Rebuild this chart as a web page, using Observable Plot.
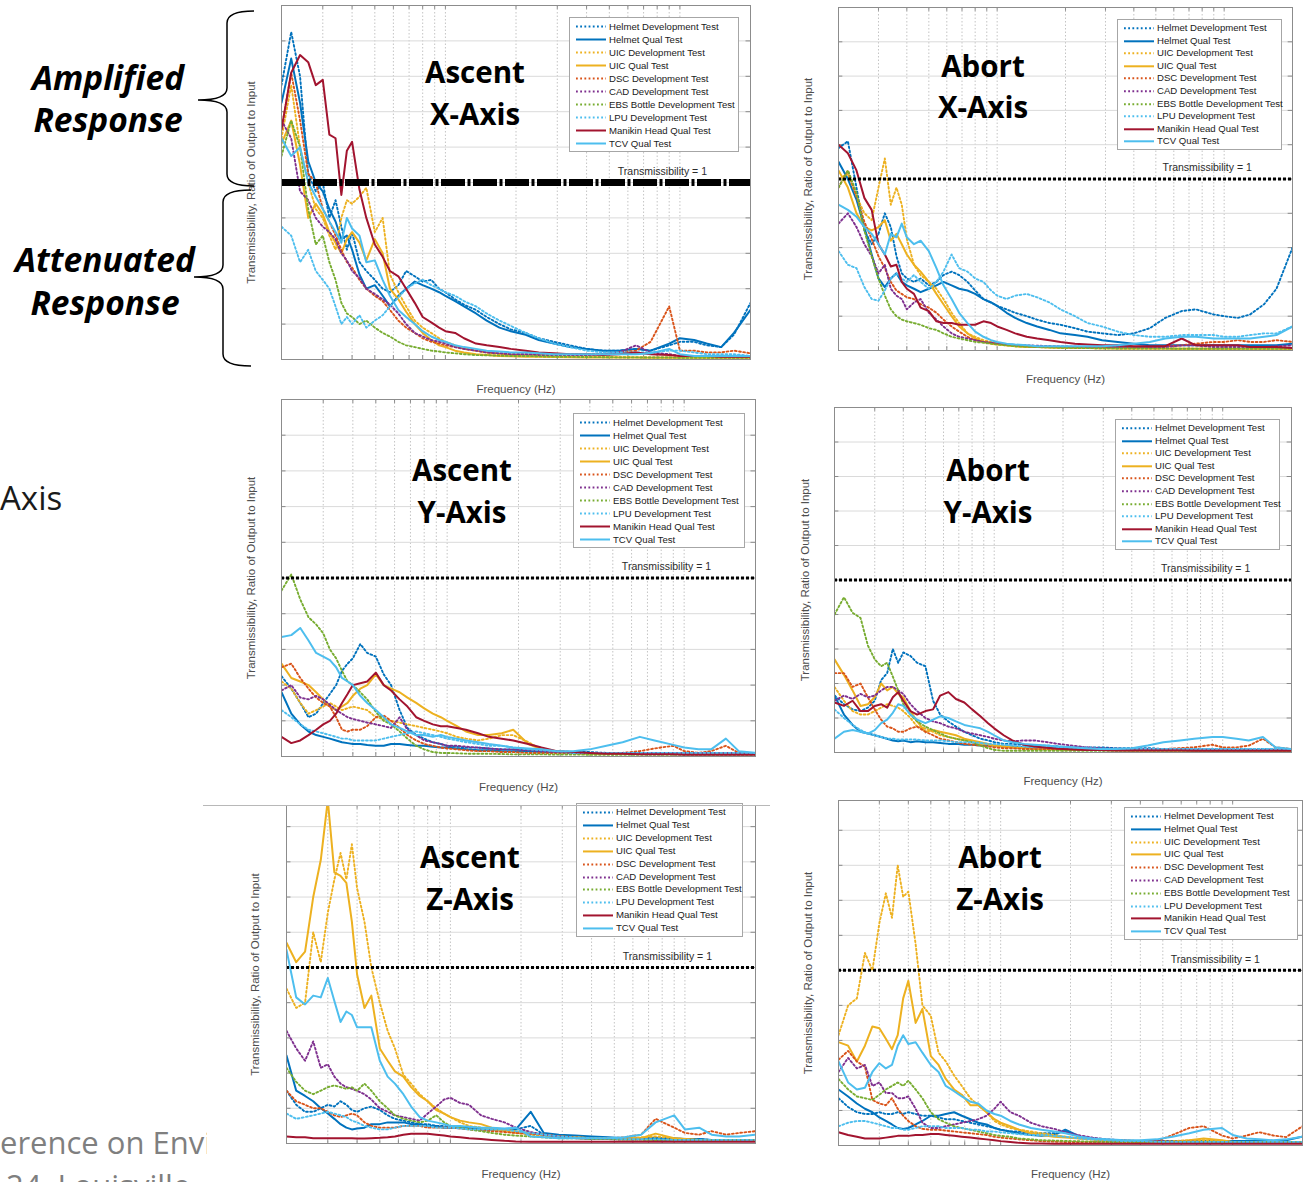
<!DOCTYPE html>
<html>
<head>
<meta charset="utf-8">
<script src="https://cdn.jsdelivr.net/npm/d3@7"></script>
<script src="https://cdn.jsdelivr.net/npm/@observablehq/plot@0.6"></script>
<style>
html,body{margin:0;padding:0;background:#fff;}
#page{position:relative;width:1304px;height:1182px;overflow:hidden;background:#fff;}
.legend{position:absolute;box-sizing:border-box;border:1px solid #a6a6a6;background:#fff;font-family:"Liberation Sans",Arial,sans-serif;font-size:9.6px;color:#1a1a1a;}
.legend .row{position:absolute;left:0;right:0;white-space:nowrap;}
.legend .row span{position:absolute;left:39px;top:0;}
.legend .row svg{position:absolute;left:5px;top:0;}
</style>
</head>
<body>
<div id="page"></div>
<script>
// ---------------- data ----------------
const freqs = [20,22,24,26,28,30,32,34,36,38,40,43,46,50,54,58,63,68,74,80,87,94,100,110,120,135,150,170,190,220,250,290,340,400,470,550,650,750,900,1000,1150,1300,1500,1700,2000];
const seriesNames = ["Helmet Development Test","Helmet Qual Test","UIC Development Test","UIC Qual Test","DSC Development Test","CAD Development Test","EBS Bottle Development Test","LPU Development Test","Manikin Head Qual Test","TCV Qual Test"];
const xGridTicks = [30,40,50,60,70,80,90,100,200,300,400,500,600,700,800,900,1000];
const yGridTicks = [0.2,0.4,0.6,0.8,1.0,1.2,1.4,1.6,1.8];
const referenceLevel = [1];
const referenceLabel = ["Transmissibility = 1"];
const xLabel = "Frequency (Hz)";
const yLabel = "Transmissibility, Ratio of Output to Input";

// Ascent X-Axis
const AX_helmetDev = [1.55,1.85,1.60,1.05,0.95,1.00,0.80,0.90,0.75,0.62,0.72,0.55,0.50,0.45,0.40,0.38,0.42,0.50,0.47,0.44,0.45,0.40,0.38,0.34,0.31,0.28,0.24,0.20,0.17,0.15,0.12,0.10,0.08,0.06,0.05,0.05,0.06,0.05,0.08,0.10,0.10,0.08,0.07,0.14,0.32];
const AX_helmetQual = [1.45,1.70,1.45,1.12,1.00,0.95,0.85,0.78,0.68,0.70,0.62,0.48,0.40,0.42,0.36,0.30,0.36,0.40,0.44,0.42,0.40,0.38,0.36,0.33,0.30,0.26,0.22,0.18,0.16,0.14,0.11,0.09,0.07,0.06,0.05,0.05,0.06,0.05,0.09,0.12,0.11,0.09,0.07,0.15,0.28];
const AX_uicDev = [1.25,1.55,1.20,1.00,0.85,0.80,0.70,0.62,0.80,0.90,0.88,0.92,0.97,0.72,0.80,0.48,0.38,0.30,0.22,0.18,0.15,0.12,0.10,0.08,0.06,0.05,0.04,0.03,0.025,0.02,0.018,0.016,0.015,0.015,0.014,0.013,0.012,0.012,0.012,0.011,0.011,0.01,0.01,0.01,0.01];
const AX_uicQual = [1.22,1.35,1.10,0.80,0.88,0.82,0.72,0.66,0.60,0.68,0.72,0.66,0.56,0.68,0.60,0.40,0.34,0.27,0.20,0.15,0.11,0.08,0.07,0.05,0.04,0.03,0.025,0.02,0.018,0.016,0.015,0.014,0.013,0.012,0.012,0.011,0.011,0.01,0.01,0.01,0.01,0.01,0.01,0.01,0.01];
const AX_dscDev = [1.30,1.62,1.35,1.05,1.00,0.85,0.78,0.70,0.62,0.55,0.52,0.45,0.40,0.36,0.33,0.28,0.22,0.18,0.15,0.12,0.10,0.09,0.08,0.07,0.06,0.05,0.04,0.035,0.03,0.03,0.03,0.03,0.03,0.03,0.03,0.04,0.05,0.10,0.30,0.05,0.05,0.04,0.04,0.05,0.035];
const AX_cadDev = [1.35,1.25,0.95,0.90,0.80,0.75,0.72,0.68,0.60,0.56,0.50,0.46,0.40,0.37,0.34,0.31,0.26,0.20,0.15,0.13,0.11,0.10,0.09,0.07,0.06,0.05,0.04,0.035,0.03,0.03,0.025,0.025,0.025,0.025,0.03,0.04,0.08,0.04,0.03,0.02,0.02,0.02,0.02,0.02,0.02];
const AX_ebsDev = [1.15,1.35,1.20,0.85,0.65,0.70,0.55,0.45,0.32,0.26,0.24,0.20,0.22,0.18,0.15,0.13,0.10,0.08,0.07,0.06,0.05,0.045,0.04,0.035,0.03,0.025,0.024,0.022,0.02,0.02,0.018,0.016,0.015,0.014,0.013,0.012,0.012,0.011,0.011,0.01,0.01,0.01,0.01,0.01,0.01];
const AX_lpuDev = [0.75,0.70,0.55,0.62,0.50,0.45,0.40,0.30,0.20,0.24,0.20,0.25,0.18,0.22,0.25,0.30,0.35,0.40,0.43,0.45,0.42,0.40,0.38,0.36,0.33,0.30,0.26,0.22,0.19,0.15,0.12,0.09,0.07,0.05,0.04,0.04,0.04,0.04,0.05,0.05,0.04,0.03,0.03,0.03,0.02];
const AX_manikin = [1.30,1.62,1.72,1.68,1.55,1.58,1.27,1.25,0.93,1.18,1.23,0.96,0.80,0.65,0.58,0.50,0.47,0.40,0.32,0.24,0.21,0.18,0.16,0.15,0.12,0.09,0.08,0.07,0.06,0.05,0.04,0.035,0.03,0.03,0.025,0.03,0.04,0.03,0.025,0.02,0.02,0.02,0.015,0.015,0.015];
const AX_tcv = [1.25,1.15,1.20,1.00,0.92,0.85,0.78,0.72,0.66,0.80,0.74,0.70,0.55,0.56,0.45,0.36,0.28,0.24,0.20,0.16,0.13,0.11,0.10,0.08,0.07,0.06,0.05,0.045,0.04,0.04,0.035,0.03,0.03,0.03,0.03,0.03,0.03,0.035,0.06,0.03,0.02,0.02,0.02,0.02,0.02];

// Abort X-Axis
const BX_helmetDev = [1.18,1.22,0.95,0.70,0.62,0.68,0.80,0.72,0.55,0.45,0.42,0.40,0.42,0.38,0.40,0.44,0.46,0.44,0.40,0.35,0.30,0.28,0.26,0.24,0.22,0.20,0.18,0.16,0.15,0.13,0.11,0.10,0.09,0.10,0.13,0.19,0.23,0.24,0.21,0.20,0.19,0.21,0.27,0.36,0.60];
const BX_helmetQual = [1.10,1.00,0.88,0.72,0.56,0.42,0.37,0.42,0.45,0.40,0.38,0.36,0.34,0.36,0.38,0.40,0.38,0.36,0.35,0.33,0.30,0.28,0.26,0.22,0.19,0.16,0.14,0.12,0.10,0.09,0.08,0.06,0.05,0.04,0.03,0.03,0.03,0.03,0.03,0.03,0.03,0.03,0.03,0.03,0.04];
const BX_uicDev = [1.00,1.03,0.90,0.80,0.76,0.95,1.12,0.85,0.95,0.85,0.65,0.50,0.44,0.40,0.36,0.30,0.22,0.16,0.10,0.08,0.06,0.05,0.04,0.03,0.025,0.02,0.02,0.018,0.016,0.015,0.014,0.013,0.012,0.012,0.011,0.011,0.01,0.01,0.01,0.01,0.01,0.01,0.01,0.01,0.01];
const BX_uicQual = [1.05,0.95,0.80,0.72,0.70,0.72,0.76,0.64,0.68,0.62,0.56,0.50,0.46,0.40,0.33,0.27,0.20,0.14,0.10,0.07,0.05,0.04,0.035,0.03,0.025,0.02,0.02,0.018,0.016,0.015,0.014,0.013,0.012,0.012,0.011,0.011,0.01,0.01,0.01,0.01,0.01,0.01,0.01,0.01,0.01];
const BX_dscDev = [0.95,1.05,0.90,0.75,0.65,0.55,0.48,0.40,0.35,0.33,0.31,0.30,0.27,0.25,0.22,0.18,0.14,0.11,0.08,0.06,0.05,0.045,0.04,0.035,0.03,0.025,0.02,0.02,0.02,0.02,0.02,0.02,0.02,0.02,0.02,0.025,0.03,0.04,0.05,0.05,0.06,0.05,0.05,0.06,0.05];
const BX_cadDev = [0.74,0.80,0.72,0.62,0.55,0.45,0.50,0.36,0.32,0.30,0.24,0.28,0.30,0.22,0.18,0.14,0.10,0.08,0.07,0.06,0.05,0.045,0.04,0.035,0.033,0.03,0.028,0.026,0.024,0.022,0.02,0.02,0.02,0.02,0.02,0.02,0.03,0.03,0.02,0.02,0.02,0.02,0.02,0.025,0.03];
const BX_ebsDev = [0.95,1.05,0.92,0.70,0.55,0.42,0.32,0.24,0.20,0.18,0.17,0.16,0.15,0.13,0.12,0.10,0.08,0.07,0.06,0.05,0.045,0.04,0.035,0.03,0.025,0.022,0.02,0.018,0.016,0.015,0.014,0.013,0.012,0.012,0.011,0.011,0.01,0.01,0.01,0.01,0.01,0.01,0.01,0.01,0.01];
const BX_lpuDev = [0.58,0.50,0.48,0.37,0.30,0.29,0.35,0.42,0.45,0.42,0.40,0.44,0.40,0.36,0.40,0.46,0.56,0.48,0.46,0.42,0.40,0.35,0.32,0.30,0.32,0.33,0.31,0.28,0.24,0.20,0.16,0.14,0.11,0.09,0.08,0.08,0.09,0.09,0.09,0.08,0.08,0.09,0.10,0.10,0.14];
const BX_manikin = [1.20,1.15,1.05,0.89,0.82,0.62,0.56,0.49,0.50,0.40,0.36,0.33,0.25,0.23,0.17,0.16,0.16,0.15,0.15,0.15,0.17,0.16,0.14,0.12,0.10,0.08,0.07,0.06,0.05,0.04,0.035,0.03,0.03,0.025,0.025,0.025,0.07,0.03,0.03,0.03,0.03,0.02,0.02,0.02,0.015];
const BX_tcv = [0.85,0.82,0.78,0.72,0.68,0.62,0.56,0.68,0.66,0.74,0.66,0.62,0.64,0.58,0.48,0.38,0.30,0.22,0.16,0.11,0.08,0.06,0.05,0.04,0.035,0.03,0.025,0.025,0.025,0.025,0.025,0.025,0.03,0.04,0.05,0.07,0.08,0.08,0.07,0.07,0.07,0.07,0.08,0.09,0.14];

// Ascent Y-Axis
const AY_helmetDev = [0.45,0.38,0.30,0.22,0.24,0.30,0.35,0.40,0.48,0.52,0.55,0.63,0.58,0.56,0.46,0.40,0.26,0.16,0.12,0.10,0.08,0.07,0.06,0.055,0.05,0.05,0.045,0.04,0.04,0.035,0.03,0.03,0.025,0.025,0.02,0.02,0.02,0.02,0.02,0.02,0.02,0.02,0.02,0.02,0.02];
const AY_helmetQual = [0.36,0.24,0.18,0.14,0.12,0.11,0.10,0.09,0.08,0.075,0.07,0.07,0.065,0.06,0.06,0.07,0.07,0.065,0.06,0.06,0.055,0.05,0.05,0.045,0.04,0.035,0.035,0.03,0.03,0.03,0.025,0.025,0.025,0.02,0.02,0.02,0.02,0.02,0.02,0.02,0.02,0.02,0.02,0.02,0.02];
const AY_uicDev = [0.42,0.38,0.30,0.24,0.26,0.28,0.30,0.28,0.26,0.27,0.28,0.27,0.26,0.22,0.21,0.20,0.19,0.18,0.17,0.16,0.15,0.14,0.13,0.11,0.10,0.09,0.10,0.12,0.12,0.08,0.04,0.025,0.02,0.015,0.015,0.015,0.015,0.015,0.015,0.015,0.015,0.015,0.015,0.015,0.015];
const AY_uicQual = [0.52,0.44,0.42,0.40,0.36,0.32,0.28,0.26,0.28,0.30,0.34,0.38,0.40,0.46,0.40,0.38,0.36,0.33,0.30,0.27,0.24,0.22,0.20,0.17,0.14,0.12,0.12,0.13,0.15,0.07,0.04,0.03,0.02,0.015,0.015,0.015,0.015,0.015,0.015,0.015,0.015,0.015,0.015,0.015,0.015];
const AY_dscDev = [0.50,0.52,0.44,0.38,0.33,0.30,0.28,0.22,0.15,0.14,0.15,0.15,0.17,0.22,0.23,0.20,0.16,0.12,0.09,0.07,0.06,0.05,0.045,0.04,0.035,0.03,0.03,0.025,0.025,0.02,0.02,0.02,0.02,0.02,0.02,0.02,0.03,0.045,0.06,0.03,0.02,0.03,0.06,0.02,0.02];
const AY_cadDev = [0.37,0.40,0.33,0.32,0.34,0.32,0.29,0.26,0.24,0.22,0.21,0.20,0.19,0.18,0.17,0.16,0.22,0.15,0.12,0.09,0.08,0.07,0.06,0.06,0.055,0.05,0.045,0.04,0.04,0.035,0.03,0.025,0.02,0.02,0.02,0.02,0.02,0.02,0.02,0.02,0.02,0.02,0.02,0.02,0.02];
const AY_ebsDev = [0.93,1.02,0.88,0.78,0.74,0.69,0.60,0.55,0.48,0.42,0.40,0.36,0.32,0.25,0.20,0.18,0.14,0.10,0.06,0.04,0.025,0.02,0.02,0.018,0.016,0.015,0.015,0.014,0.012,0.012,0.012,0.011,0.011,0.01,0.01,0.01,0.01,0.01,0.01,0.01,0.01,0.01,0.01,0.01,0.01];
const AY_lpuDev = [0.26,0.22,0.18,0.15,0.14,0.13,0.12,0.11,0.10,0.10,0.09,0.09,0.09,0.09,0.10,0.11,0.12,0.13,0.14,0.13,0.12,0.11,0.10,0.09,0.08,0.07,0.06,0.06,0.05,0.04,0.035,0.03,0.02,0.02,0.02,0.02,0.02,0.02,0.02,0.02,0.02,0.02,0.02,0.02,0.02];
const AY_manikin = [0.11,0.075,0.09,0.12,0.15,0.18,0.20,0.24,0.30,0.35,0.40,0.41,0.42,0.47,0.40,0.37,0.32,0.28,0.22,0.20,0.18,0.17,0.17,0.16,0.15,0.13,0.11,0.10,0.09,0.07,0.05,0.03,0.025,0.02,0.015,0.015,0.012,0.012,0.012,0.01,0.01,0.01,0.01,0.01,0.01];
const AY_tcv = [0.67,0.68,0.72,0.65,0.58,0.56,0.54,0.50,0.44,0.42,0.40,0.34,0.30,0.26,0.22,0.18,0.16,0.14,0.12,0.12,0.11,0.12,0.11,0.10,0.09,0.08,0.07,0.06,0.05,0.045,0.04,0.03,0.03,0.04,0.06,0.08,0.11,0.09,0.065,0.05,0.04,0.04,0.10,0.03,0.02];

// Abort Y-Axis
const BY_helmetDev = [0.33,0.28,0.25,0.24,0.26,0.30,0.42,0.46,0.60,0.52,0.58,0.56,0.52,0.50,0.30,0.22,0.18,0.15,0.12,0.10,0.08,0.07,0.06,0.05,0.05,0.045,0.04,0.04,0.035,0.03,0.03,0.03,0.025,0.025,0.025,0.02,0.02,0.02,0.02,0.02,0.02,0.02,0.02,0.02,0.02];
const BY_helmetQual = [0.33,0.22,0.16,0.12,0.11,0.10,0.09,0.08,0.07,0.065,0.07,0.06,0.065,0.06,0.06,0.055,0.05,0.05,0.045,0.045,0.04,0.04,0.04,0.035,0.035,0.03,0.03,0.028,0.026,0.024,0.022,0.02,0.02,0.018,0.018,0.016,0.016,0.015,0.015,0.015,0.015,0.015,0.015,0.015,0.015];
const BY_uicDev = [0.38,0.30,0.24,0.22,0.22,0.24,0.26,0.28,0.27,0.26,0.24,0.20,0.15,0.14,0.12,0.10,0.09,0.08,0.07,0.06,0.05,0.045,0.04,0.035,0.03,0.025,0.022,0.02,0.018,0.016,0.015,0.014,0.013,0.012,0.012,0.011,0.011,0.01,0.01,0.01,0.01,0.01,0.01,0.01,0.01];
const BY_uicQual = [0.54,0.45,0.36,0.27,0.28,0.32,0.40,0.36,0.38,0.34,0.32,0.24,0.18,0.12,0.13,0.12,0.11,0.10,0.08,0.07,0.06,0.05,0.04,0.035,0.03,0.025,0.022,0.02,0.018,0.016,0.015,0.014,0.013,0.012,0.012,0.011,0.011,0.01,0.01,0.01,0.01,0.01,0.01,0.01,0.01];
const BY_dscDev = [0.46,0.46,0.38,0.40,0.32,0.25,0.19,0.15,0.14,0.12,0.12,0.14,0.15,0.12,0.10,0.08,0.07,0.06,0.05,0.045,0.04,0.035,0.03,0.025,0.025,0.02,0.02,0.02,0.02,0.02,0.02,0.02,0.02,0.02,0.02,0.02,0.025,0.03,0.045,0.03,0.03,0.04,0.08,0.03,0.02];
const BY_cadDev = [0.30,0.33,0.31,0.34,0.32,0.33,0.36,0.38,0.38,0.36,0.34,0.28,0.24,0.20,0.18,0.17,0.15,0.14,0.12,0.11,0.10,0.09,0.08,0.07,0.065,0.07,0.07,0.06,0.05,0.04,0.03,0.025,0.022,0.02,0.02,0.018,0.018,0.016,0.016,0.015,0.015,0.015,0.015,0.015,0.015];
const BY_ebsDev = [0.80,0.90,0.81,0.78,0.62,0.54,0.50,0.52,0.44,0.36,0.28,0.22,0.18,0.15,0.13,0.11,0.09,0.08,0.07,0.06,0.04,0.025,0.015,0.01,0.01,0.01,0.01,0.01,0.01,0.01,0.01,0.01,0.01,0.01,0.01,0.01,0.01,0.01,0.01,0.01,0.01,0.01,0.01,0.01,0.01];
const BY_lpuDev = [0.25,0.20,0.16,0.13,0.11,0.10,0.09,0.08,0.08,0.075,0.075,0.075,0.075,0.07,0.07,0.07,0.065,0.06,0.06,0.06,0.055,0.05,0.05,0.045,0.04,0.035,0.03,0.03,0.028,0.026,0.024,0.022,0.02,0.02,0.02,0.02,0.02,0.02,0.02,0.02,0.02,0.02,0.02,0.02,0.02];
const BY_manikin = [0.29,0.27,0.30,0.24,0.24,0.27,0.28,0.26,0.32,0.35,0.30,0.24,0.22,0.24,0.25,0.33,0.35,0.31,0.29,0.25,0.21,0.17,0.14,0.10,0.07,0.045,0.035,0.028,0.022,0.018,0.015,0.015,0.012,0.012,0.012,0.011,0.011,0.01,0.01,0.01,0.01,0.01,0.01,0.01,0.01];
const BY_tcv = [0.08,0.12,0.13,0.12,0.11,0.13,0.17,0.19,0.23,0.28,0.27,0.22,0.19,0.17,0.19,0.21,0.20,0.18,0.16,0.15,0.14,0.12,0.10,0.07,0.06,0.05,0.045,0.04,0.035,0.03,0.025,0.02,0.02,0.025,0.04,0.06,0.07,0.08,0.09,0.09,0.08,0.07,0.09,0.03,0.02];

// Ascent Z-Axis
const AZ_helmetDev = [0.30,0.22,0.18,0.18,0.20,0.22,0.21,0.24,0.22,0.19,0.18,0.20,0.21,0.19,0.16,0.14,0.13,0.12,0.11,0.11,0.10,0.10,0.09,0.09,0.09,0.085,0.08,0.075,0.08,0.10,0.05,0.04,0.035,0.03,0.03,0.03,0.03,0.03,0.025,0.025,0.025,0.02,0.02,0.02,0.02];
const AZ_helmetQual = [0.50,0.30,0.27,0.24,0.20,0.17,0.14,0.11,0.09,0.08,0.085,0.09,0.11,0.11,0.12,0.12,0.12,0.11,0.11,0.10,0.10,0.09,0.09,0.09,0.085,0.08,0.08,0.08,0.08,0.18,0.06,0.05,0.045,0.04,0.035,0.03,0.03,0.03,0.03,0.025,0.025,0.02,0.02,0.02,0.02];
const AZ_uicDev = [0.88,0.77,0.80,1.20,1.03,1.31,1.50,1.65,1.50,1.70,1.45,1.26,1.00,0.80,0.64,0.54,0.39,0.34,0.28,0.24,0.20,0.17,0.15,0.12,0.10,0.09,0.08,0.07,0.06,0.05,0.045,0.04,0.035,0.03,0.03,0.03,0.035,0.04,0.03,0.025,0.02,0.02,0.02,0.02,0.02];
const AZ_uicQual = [1.14,1.03,1.09,1.40,1.61,1.95,1.54,1.52,1.48,1.26,0.96,0.77,0.84,0.54,0.47,0.41,0.38,0.32,0.27,0.24,0.19,0.17,0.15,0.13,0.12,0.11,0.09,0.08,0.07,0.06,0.05,0.04,0.035,0.03,0.03,0.03,0.03,0.056,0.03,0.025,0.02,0.02,0.02,0.02,0.02];
const AZ_dscDev = [0.30,0.24,0.22,0.20,0.20,0.18,0.16,0.15,0.16,0.17,0.16,0.12,0.10,0.09,0.09,0.09,0.10,0.10,0.10,0.09,0.09,0.09,0.09,0.085,0.08,0.075,0.07,0.065,0.06,0.055,0.05,0.04,0.035,0.03,0.03,0.035,0.05,0.14,0.09,0.06,0.05,0.07,0.05,0.06,0.07];
const AZ_cadDev = [0.64,0.54,0.47,0.58,0.43,0.45,0.38,0.34,0.32,0.31,0.30,0.28,0.25,0.20,0.18,0.16,0.15,0.14,0.13,0.17,0.21,0.25,0.26,0.23,0.22,0.16,0.14,0.12,0.09,0.065,0.05,0.04,0.03,0.025,0.025,0.022,0.022,0.02,0.02,0.02,0.02,0.02,0.02,0.02,0.02];
const AZ_ebsDev = [0.43,0.35,0.30,0.28,0.30,0.32,0.33,0.32,0.31,0.32,0.30,0.34,0.30,0.24,0.20,0.16,0.14,0.13,0.12,0.13,0.16,0.12,0.10,0.09,0.08,0.07,0.06,0.05,0.045,0.04,0.035,0.03,0.03,0.025,0.025,0.022,0.022,0.02,0.02,0.02,0.02,0.02,0.02,0.02,0.02];
const AZ_lpuDev = [0.17,0.14,0.15,0.16,0.17,0.18,0.17,0.16,0.15,0.13,0.12,0.10,0.09,0.08,0.08,0.09,0.10,0.10,0.10,0.10,0.09,0.09,0.09,0.085,0.08,0.08,0.08,0.08,0.07,0.06,0.05,0.04,0.035,0.03,0.03,0.025,0.025,0.025,0.02,0.02,0.02,0.02,0.02,0.02,0.02];
const AZ_manikin = [0.04,0.035,0.035,0.03,0.03,0.03,0.03,0.03,0.03,0.03,0.028,0.028,0.03,0.032,0.035,0.04,0.05,0.055,0.055,0.055,0.05,0.045,0.04,0.035,0.03,0.025,0.02,0.015,0.012,0.01,0.01,0.01,0.01,0.01,0.01,0.01,0.01,0.01,0.01,0.01,0.01,0.01,0.01,0.01,0.01];
const AZ_tcv = [1.10,0.83,0.79,0.84,0.83,0.94,0.81,0.69,0.75,0.73,0.66,0.66,0.66,0.47,0.38,0.34,0.28,0.21,0.15,0.13,0.12,0.11,0.10,0.10,0.095,0.09,0.09,0.085,0.09,0.04,0.035,0.03,0.03,0.03,0.03,0.035,0.05,0.12,0.16,0.08,0.09,0.05,0.04,0.04,0.05];

// Abort Z-Axis
const BZ_helmetDev = [0.27,0.22,0.19,0.18,0.18,0.19,0.18,0.18,0.19,0.18,0.19,0.18,0.17,0.17,0.16,0.15,0.15,0.14,0.13,0.12,0.11,0.10,0.09,0.08,0.08,0.07,0.07,0.07,0.08,0.05,0.04,0.03,0.025,0.025,0.02,0.02,0.02,0.02,0.02,0.02,0.02,0.02,0.02,0.02,0.02];
const BZ_helmetQual = [0.32,0.28,0.24,0.21,0.19,0.16,0.14,0.12,0.10,0.095,0.10,0.12,0.14,0.17,0.17,0.18,0.19,0.17,0.15,0.13,0.12,0.10,0.09,0.08,0.07,0.06,0.055,0.06,0.09,0.05,0.035,0.03,0.025,0.025,0.025,0.025,0.025,0.025,0.025,0.025,0.025,0.025,0.025,0.03,0.05];
const BZ_uicDev = [0.63,0.80,0.84,1.10,1.00,1.27,1.44,1.30,1.60,1.42,1.45,1.15,0.80,0.74,0.53,0.48,0.40,0.34,0.27,0.23,0.19,0.14,0.12,0.10,0.09,0.08,0.07,0.06,0.05,0.04,0.035,0.03,0.03,0.025,0.025,0.025,0.03,0.03,0.025,0.02,0.02,0.02,0.02,0.02,0.02];
const BZ_uicQual = [0.59,0.57,0.48,0.57,0.68,0.67,0.61,0.55,0.63,0.84,0.94,0.70,0.78,0.51,0.46,0.38,0.32,0.29,0.23,0.23,0.19,0.15,0.13,0.11,0.09,0.07,0.06,0.05,0.045,0.04,0.035,0.03,0.025,0.02,0.02,0.02,0.03,0.04,0.03,0.02,0.02,0.02,0.02,0.02,0.02];
const BZ_dscDev = [0.49,0.54,0.48,0.45,0.26,0.24,0.23,0.27,0.21,0.17,0.14,0.11,0.095,0.09,0.09,0.085,0.08,0.075,0.07,0.065,0.06,0.05,0.045,0.04,0.035,0.03,0.025,0.022,0.02,0.02,0.02,0.02,0.02,0.02,0.025,0.06,0.10,0.11,0.057,0.04,0.057,0.076,0.057,0.048,0.11];
const BZ_cadDev = [0.42,0.50,0.44,0.46,0.34,0.36,0.30,0.30,0.27,0.27,0.28,0.21,0.13,0.10,0.10,0.11,0.12,0.13,0.14,0.15,0.17,0.21,0.25,0.19,0.17,0.13,0.11,0.095,0.076,0.057,0.045,0.035,0.03,0.025,0.025,0.022,0.022,0.02,0.02,0.02,0.02,0.02,0.02,0.02,0.02];
const BZ_ebsDev = [0.38,0.32,0.28,0.27,0.26,0.29,0.32,0.34,0.36,0.34,0.37,0.32,0.27,0.19,0.15,0.13,0.11,0.10,0.09,0.08,0.07,0.06,0.055,0.05,0.04,0.035,0.03,0.028,0.026,0.024,0.022,0.02,0.02,0.02,0.02,0.02,0.02,0.02,0.02,0.02,0.02,0.02,0.02,0.02,0.02];
const BZ_lpuDev = [0.11,0.13,0.14,0.14,0.13,0.12,0.11,0.10,0.10,0.09,0.09,0.10,0.11,0.11,0.11,0.10,0.10,0.10,0.09,0.09,0.08,0.08,0.075,0.07,0.065,0.06,0.06,0.055,0.05,0.04,0.035,0.03,0.025,0.025,0.02,0.02,0.02,0.02,0.02,0.02,0.02,0.02,0.02,0.02,0.02];
const BZ_manikin = [0.076,0.06,0.05,0.04,0.04,0.04,0.045,0.05,0.055,0.055,0.055,0.06,0.06,0.065,0.065,0.06,0.055,0.05,0.045,0.04,0.035,0.03,0.025,0.02,0.015,0.012,0.012,0.01,0.01,0.01,0.01,0.01,0.01,0.01,0.01,0.01,0.01,0.01,0.01,0.01,0.01,0.01,0.01,0.01,0.01];
const BZ_tcv = [0.48,0.36,0.32,0.33,0.42,0.47,0.44,0.46,0.57,0.63,0.58,0.59,0.53,0.46,0.42,0.34,0.31,0.28,0.25,0.24,0.20,0.18,0.17,0.14,0.12,0.10,0.09,0.08,0.07,0.05,0.04,0.035,0.03,0.03,0.035,0.05,0.07,0.09,0.10,0.06,0.04,0.035,0.03,0.035,0.05];

// ---------------- styles & layout ----------------
const seriesColors = ["#0072BD","#0072BD","#EDB120","#EDB120","#D95319","#7E2F8E","#77AC30","#4DBEEE","#A2142F","#4DBEEE"];
const seriesDotted = [true,false,true,false,true,true,true,true,false,false];
const dotPattern = "1.8,2.4";

const panels = [
  {values:[AX_helmetDev,AX_helmetQual,AX_uicDev,AX_uicQual,AX_dscDev,AX_cadDev,AX_ebsDev,AX_lpuDev,AX_manikin,AX_tcv],
   left:281, top:5, right:750, bottom:359, ymax:2, xlabGap:29, ylabGap:30, legend:[569,17,739,152], title:["Ascent","X-Axis"], titleX:475, titleBase:[83,125], thick:true},
  {values:[BX_helmetDev,BX_helmetQual,BX_uicDev,BX_uicQual,BX_dscDev,BX_cadDev,BX_ebsDev,BX_lpuDev,BX_manikin,BX_tcv],
   left:838, top:7, right:1292, bottom:350, ymax:2, xlabGap:28, ylabGap:30, legend:[1117,19,1282,150], title:["Abort","X-Axis"], titleX:983, titleBase:[77,118]},
  {values:[AY_helmetDev,AY_helmetQual,AY_uicDev,AY_uicQual,AY_dscDev,AY_cadDev,AY_ebsDev,AY_lpuDev,AY_manikin,AY_tcv],
   left:281, top:399, right:755, bottom:756, ymax:2, xlabGap:30, ylabGap:30, legend:[573,413,745,548], title:["Ascent","Y-Axis"], titleX:462, titleBase:[481,523]},
  {values:[BY_helmetDev,BY_helmetQual,BY_uicDev,BY_uicQual,BY_dscDev,BY_cadDev,BY_ebsDev,BY_lpuDev,BY_manikin,BY_tcv],
   left:834, top:407, right:1291, bottom:752, ymax:2, xlabGap:28, ylabGap:29, legend:[1115,419,1280,550], title:["Abort","Y-Axis"], titleX:988, titleBase:[481,523]},
  {values:[AZ_helmetDev,AZ_helmetQual,AZ_uicDev,AZ_uicQual,AZ_dscDev,AZ_cadDev,AZ_ebsDev,AZ_lpuDev,AZ_manikin,AZ_tcv],
   left:286, top:805, right:755, bottom:1143, ymax:1.92, xlabGap:30, ylabGap:31, legend:[576,803,743,937], title:["Ascent","Z-Axis"], titleX:470, titleBase:[868,910]},
  {values:[BZ_helmetDev,BZ_helmetQual,BZ_uicDev,BZ_uicQual,BZ_dscDev,BZ_cadDev,BZ_ebsDev,BZ_lpuDev,BZ_manikin,BZ_tcv],
   left:838, top:800, right:1302, bottom:1145, ymax:1.97, xlabGap:28, ylabGap:30, legend:[1124,807,1298,940], title:["Abort","Z-Axis"], titleX:1000, titleBase:[868,910]}
];

const page = document.getElementById("page");
const mL = 50, mR = 4, mT = 4, mB = 48;

function buildPanel(cfg) {
  const w = cfg.right - cfg.left, h = cfg.bottom - cfg.top;
  const yt = yGridTicks.filter(t => t < cfg.ymax - 0.01);
  const lineMarks = seriesNames.map((name, s) => {
    const rows = cfg.values[s].map((v, i) => ({f: freqs[i], v}));
    return Plot.line(rows, {
      x: "f", y: "v", stroke: seriesColors[s],
      strokeWidth: seriesDotted[s] ? 1.9 : 2,
      strokeDasharray: seriesDotted[s] ? dotPattern : undefined,
      clip: true
    });
  });
  const plot = Plot.plot({
    width: w + mL + mR, height: h + mT + mB,
    marginLeft: mL, marginRight: mR, marginTop: mT, marginBottom: mB,
    x: {type: "log", domain: [20, 2000]},
    y: {domain: [0, cfg.ymax]},
    style: {fontFamily: "'Liberation Sans', Arial, sans-serif", fontSize: "11.5px", color: "#4d4d4d", background: "transparent", overflow: "visible"},
    marks: [
      Plot.ruleX(xGridTicks, {stroke: "#c4c4c4", strokeWidth: 1, strokeDasharray: "1.5,2"}),
      Plot.ruleY(yt, {stroke: "#dadada", strokeWidth: 1}),
      Plot.ruleX(xGridTicks, {y1: 0, y2: cfg.ymax * 0.011, stroke: "#8a8a8a"}),
      Plot.ruleX(xGridTicks, {y1: cfg.ymax, y2: cfg.ymax * 0.989, stroke: "#8a8a8a"}),
      Plot.ruleY(yt, {x1: 20, x2: 20.9, stroke: "#8a8a8a"}),
      Plot.ruleY(yt, {x1: 1914, x2: 2000, stroke: "#8a8a8a"}),
      ...lineMarks,
      Plot.ruleY(referenceLevel, cfg.thick
        ? {stroke: "#000", strokeWidth: 7, strokeDasharray: "24,2.5,3,2.5"}
        : {stroke: "#000", strokeWidth: 3, strokeDasharray: "3,2"}),
      Plot.text(referenceLabel, {x: () => 842, y: () => 1, text: d => d, dy: -11, fontSize: 10.5, fill: "#2b2b2b"}),
      Plot.axisX({ticks: [], tickSize: 0, label: xLabel, labelAnchor: "center", labelArrow: "none", labelOffset: cfg.xlabGap + 4}),
      Plot.axisY({ticks: [], tickSize: 0, label: yLabel, labelAnchor: "center", labelArrow: "none", labelOffset: cfg.ylabGap + 5}),
      Plot.frame({stroke: "#8c8c8c"})
    ]
  });
  plot.style.position = "absolute";
  plot.style.left = (cfg.left - mL) + "px";
  plot.style.top = (cfg.top - mT) + "px";
  plot.style.maxWidth = "none";
  page.appendChild(plot);
}

function buildLegend(cfg) {
  const [x0, y0, x1, y1] = cfg.legend;
  const div = document.createElement("div");
  div.className = "legend";
  div.style.left = x0 + "px"; div.style.top = y0 + "px";
  div.style.width = (x1 - x0) + "px"; div.style.height = (y1 - y0) + "px";
  const rowH = (y1 - y0 - 5) / 10;
  seriesNames.forEach((name, s) => {
    const row = document.createElement("div");
    row.className = "row";
    row.style.top = (2 + s * rowH) + "px";
    row.style.height = rowH + "px";
    const svg = d3.create("svg").attr("width", 32).attr("height", rowH);
    svg.append("line").attr("x1", 1).attr("x2", 31).attr("y1", rowH / 2).attr("y2", rowH / 2)
      .attr("stroke", seriesColors[s]).attr("stroke-width", 2)
      .attr("stroke-dasharray", seriesDotted[s] ? dotPattern : null);
    row.appendChild(svg.node());
    const span = document.createElement("span");
    span.textContent = name;
    span.style.lineHeight = rowH + "px";
    row.appendChild(span);
    div.appendChild(row);
  });
  page.appendChild(div);
}

panels.forEach(p => { buildPanel(p); });
panels.forEach(p => { buildLegend(p); });

// ---------------- annotations overlay ----------------
const ov = d3.create("svg").attr("width", 1304).attr("height", 1182)
  .style("position", "absolute").style("left", "0px").style("top", "0px").style("pointer-events", "none");

panels.forEach(p => {
  p.title.forEach((t, i) => {
    ov.append("text").attr("x", p.titleX).attr("y", p.titleBase[i]).attr("text-anchor", "middle")
      .attr("font-family", "'Open Sans', sans-serif").attr("font-weight", 700).attr("font-size", 29.5)
      .attr("fill", "#000").text(t);
  });
});

const sideNotes = [
  {text: "Amplified", x: 108, y: 90},
  {text: "Response", x: 108, y: 132},
  {text: "Attenuated", x: 105, y: 272},
  {text: "Response", x: 105, y: 315}
];
sideNotes.forEach(n => {
  ov.append("text").attr("x", n.x).attr("y", n.y).attr("text-anchor", "middle")
    .attr("font-family", "'Open Sans', sans-serif").attr("font-weight", 700).attr("font-style", "italic")
    .attr("font-size", 33.5).attr("fill", "#000").text(n.text);
});

function bracePath(xe, xs, xt, y0, ym, y1, r) {
  return `M${xe},${y0} Q${xs},${y0} ${xs},${y0 + r} L${xs},${ym - r} Q${xs},${ym} ${xt},${ym} ` +
         `Q${xs},${ym} ${xs},${ym + r} L${xs},${y1 - r} Q${xs},${y1} ${xe},${y1}`;
}
ov.append("path").attr("d", bracePath(254, 227, 198, 11, 100, 186, 12)).attr("fill", "none").attr("stroke", "#000").attr("stroke-width", 1.5);
ov.append("path").attr("d", bracePath(251, 223, 194, 190, 277, 366, 12)).attr("fill", "none").attr("stroke", "#000").attr("stroke-width", 1.5);

ov.append("text").attr("x", 0).attr("y", 510).attr("font-family", "'Open Sans', sans-serif")
  .attr("font-size", 33).attr("fill", "#1a1a1a").text("Axis");

ov.append("line").attr("x1", 203).attr("x2", 770).attr("y1", 805.5).attr("y2", 805.5)
  .attr("stroke", "#b8b8b8").attr("stroke-width", 1);

ov.append("clipPath").attr("id", "footclip").append("rect").attr("x", 0).attr("y", 1100).attr("width", 207).attr("height", 90);
const foot = ov.append("g").attr("clip-path", "url(#footclip)")
  .attr("font-family", "'Open Sans', sans-serif").attr("font-size", 31).attr("fill", "#7f7f7f");
foot.append("text").attr("x", 0).attr("y", 1154).text("erence on Environmental");
foot.append("text").attr("x", 6).attr("y", 1197).text("24, Louisville");

page.appendChild(ov.node());
</script>
</body>
</html>
